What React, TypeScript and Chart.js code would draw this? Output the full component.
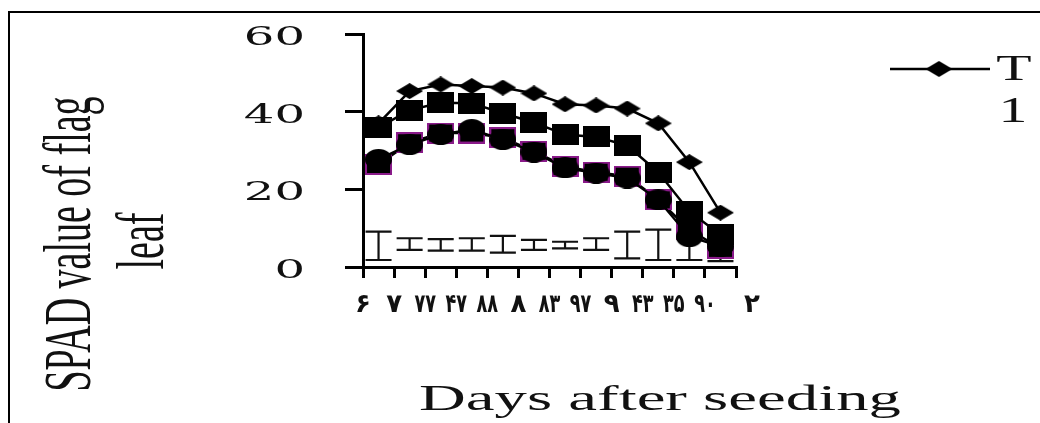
import { useEffect, useRef } from "react";
import { Chart, registerables } from "chart.js";

Chart.register(...registerables);

// ---- data ----
const xTickLabels = ["۶", "۷", "۷۷", "۴۷", "۸۸", "۸", "۸۳", "۹۷", "۹", "۴۳", "۳۵", "۹۰", "۲"];
const pointSlots = [0.5, 1.5, 2.5, 3.5, 4.5, 5.5, 6.5, 7.5, 8.5, 9.5, 10.5, 11.5];
const seriesT1 = [37, 45.3, 47, 46.6, 46.2, 44.7, 41.9, 41.6, 40.8, 37, 27, 14];
const seriesSquare = [35.9, 40.4, 42.3, 42.2, 39.6, 37.2, 34.1, 33.5, 31.3, 24.4, 14.3, 8.3];
const seriesPurple = [26.4, 32, 34.5, 34.5, 33.3, 29.8, 25.9, 24.4, 23.4, 17.3, 9.6, 4.8];
const seriesCircle = [27.7, 31.5, 34.1, 35.4, 32.8, 29.6, 25.5, 24.2, 22.9, 17.3, 7.8, 5.3];
const errTop = [9.1, 7.4, 7.2, 7.4, 8.0, 7.0, 6.5, 7.4, 9.1, 9.6, 12, 8];
const errBottom = [1.8, 4.4, 4.2, 4.2, 3.7, 4.4, 4.8, 4.4, 2.2, 1.8, 1.8, 1.5];
const legendLabel = ["T", "1"];
const xTitle = "Days after seeding";
const yTitle = ["SPAD value of flag", "leaf"];

function makeMarker(kind: string): HTMLCanvasElement {
  const c = document.createElement("canvas");
  const w = 27;
  const h = kind === "diamond" ? 16 : 21;
  c.width = w;
  c.height = h;
  const g = c.getContext("2d")!;
  g.fillStyle = "#000";
  if (kind === "diamond") {
    g.beginPath();
    g.moveTo(0, h / 2);
    g.lineTo(w / 2, 0);
    g.lineTo(w, h / 2);
    g.lineTo(w / 2, h);
    g.closePath();
    g.fill();
  } else if (kind === "square") {
    g.fillRect(0, 0, w, h);
  } else if (kind === "purple") {
    g.fillRect(0, 0, w, h);
    g.strokeStyle = "#8a1a8a";
    g.lineWidth = 2;
    g.strokeRect(1, 1, w - 2, h - 2);
  } else {
    g.beginPath();
    g.ellipse(w / 2, h / 2, w / 2, h / 2, 0, 0, Math.PI * 2);
    g.fill();
  }
  return c;
}

function stretchedText(
  ctx: CanvasRenderingContext2D,
  text: string,
  x: number,
  y: number,
  sx: number,
  align: CanvasTextAlign,
  font: string
) {
  ctx.save();
  ctx.translate(x, y);
  ctx.scale(sx, 1);
  ctx.font = font;
  ctx.textAlign = align;
  ctx.textBaseline = "alphabetic";
  ctx.fillText(text, 0, 0);
  ctx.restore();
}

const errorBarPlugin = {
  id: "errorBars",
  beforeDatasetsDraw(chart: any) {
    const ctx = chart.ctx as CanvasRenderingContext2D;
    const xs = chart.scales.x;
    const ys = chart.scales.y;
    ctx.save();
    ctx.strokeStyle = "#111";
    ctx.lineWidth = 2.2;
    pointSlots.forEach((slot, i) => {
      const px = xs.getPixelForValue(slot);
      const t = ys.getPixelForValue(errTop[i]);
      const b = ys.getPixelForValue(errBottom[i]);
      ctx.beginPath();
      ctx.moveTo(px, t);
      ctx.lineTo(px, b);
      ctx.moveTo(px - 13, t);
      ctx.lineTo(px + 13, t);
      ctx.moveTo(px - 13, b);
      ctx.lineTo(px + 13, b);
      ctx.stroke();
    });
    ctx.restore();
  },
};

const decorPlugin = {
  id: "decor",
  afterDraw(chart: any) {
    const ctx = chart.ctx as CanvasRenderingContext2D;
    const xs = chart.scales.x;
    const ys = chart.scales.y;
    ctx.save();
    // frame
    ctx.strokeStyle = "#000";
    ctx.lineWidth = 2;
    ctx.beginPath();
    ctx.moveTo(9, 423);
    ctx.lineTo(9, 12);
    ctx.lineTo(1040, 12);
    ctx.stroke();

    ctx.fillStyle = "#111";
    // y tick labels
    ys.ticks.forEach((t: any) => {
      const py = ys.getPixelForValue(t.value);
      stretchedText(ctx, String(t.value), 305, py + 11, 1.85, "right", '26px "DejaVu Serif"');
    });
    // x tick labels
    xs.ticks.forEach((t: any) => {
      const px = xs.getPixelForValue(t.value);
      const lab = xTickLabels[t.value] ?? "";
      const shift = t.value === 12 ? 16 : 0;
      stretchedText(ctx, lab, px + shift, 312, lab.length > 1 ? 0.68 : 1.0, "center", 'bold 26px "DejaVu Sans"');
    });
    // x title
    stretchedText(ctx, xTitle, 660, 410, 1.85, "center", '35px "Liberation Serif"');
    // y title (rotated, stretched along glyph height)
    const yLines: [string, number, number][] = [
      [yTitle[0], 90, 244],
      [yTitle[1], 163, 241],
    ];
    yLines.forEach(([txt, bx, cy]) => {
      ctx.save();
      ctx.translate(bx, cy);
      ctx.scale(1.8, 1);
      ctx.rotate(-Math.PI / 2);
      ctx.font = '38px "Liberation Serif"';
      ctx.textAlign = "center";
      ctx.textBaseline = "alphabetic";
      ctx.fillText(txt, 0, 0);
      ctx.restore();
    });
    // legend
    ctx.strokeStyle = "#000";
    ctx.lineWidth = 2.5;
    ctx.beginPath();
    ctx.moveTo(890, 69);
    ctx.lineTo(990, 69);
    ctx.stroke();
    const dm = makeMarker("diamond");
    ctx.drawImage(dm, 939 - dm.width / 2, 69 - dm.height / 2);
    stretchedText(ctx, legendLabel[0], 1014, 80, 1.65, "center", '35px "Liberation Serif"');
    stretchedText(ctx, legendLabel[1], 1013, 122, 1.65, "center", '35px "Liberation Serif"');
    ctx.restore();
  },
};

export default function App() {
  const ref = useRef<HTMLCanvasElement | null>(null);
  useEffect(() => {
    if (!ref.current) return;
    const mk = (vals: number[]) => pointSlots.map((x, i) => ({ x, y: vals[i] }));
    const base = {
      borderColor: "#000",
      backgroundColor: "#000",
      borderWidth: 2.5,
      tension: 0,
      pointRadius: 10,
    };
    const chart = new Chart(ref.current, {
      type: "line",
      data: {
        datasets: [
          { ...base, label: "T1", data: mk(seriesT1), pointStyle: makeMarker("diamond") as any, order: 1 },
          { ...base, label: "T2", data: mk(seriesSquare), pointStyle: makeMarker("square") as any, order: 2 },
          { ...base, label: "T3", data: mk(seriesCircle), pointStyle: makeMarker("circle") as any, order: 3 },
          { ...base, label: "T4", data: mk(seriesPurple), pointStyle: makeMarker("purple") as any, order: 4 },
        ],
      },
      options: {
        animation: false,
        responsive: false,
        events: [],
        layout: { padding: { left: 0, top: 34, right: 304, bottom: 0 } },
        plugins: { legend: { display: false }, tooltip: { enabled: false } },
        scales: {
          x: {
            type: "linear",
            min: 0,
            max: 12,
            ticks: { stepSize: 1, display: false },
            grid: { display: true, drawOnChartArea: false, drawTicks: true, tickLength: 11, color: "#000", lineWidth: 3 },
            border: { display: true, color: "#000", width: 3 },
            afterFit: (s: any) => {
              s.height = 156;
            },
          },
          y: {
            type: "linear",
            min: 0,
            max: 60,
            ticks: { stepSize: 20, display: false },
            grid: { display: true, drawOnChartArea: false, drawTicks: true, tickLength: 18, color: "#000", lineWidth: 3 },
            border: { display: true, color: "#000", width: 3 },
            afterFit: (s: any) => {
              s.width = 363;
            },
          },
        },
      },
      plugins: [errorBarPlugin, decorPlugin],
    });
    return () => chart.destroy();
  }, []);
  return (
    <div style={{ position: "fixed", left: 0, top: 0, width: 1040, height: 423, background: "#fff" }}>
      <canvas ref={ref} width={1040} height={423} style={{ display: "block" }} />
    </div>
  );
}
